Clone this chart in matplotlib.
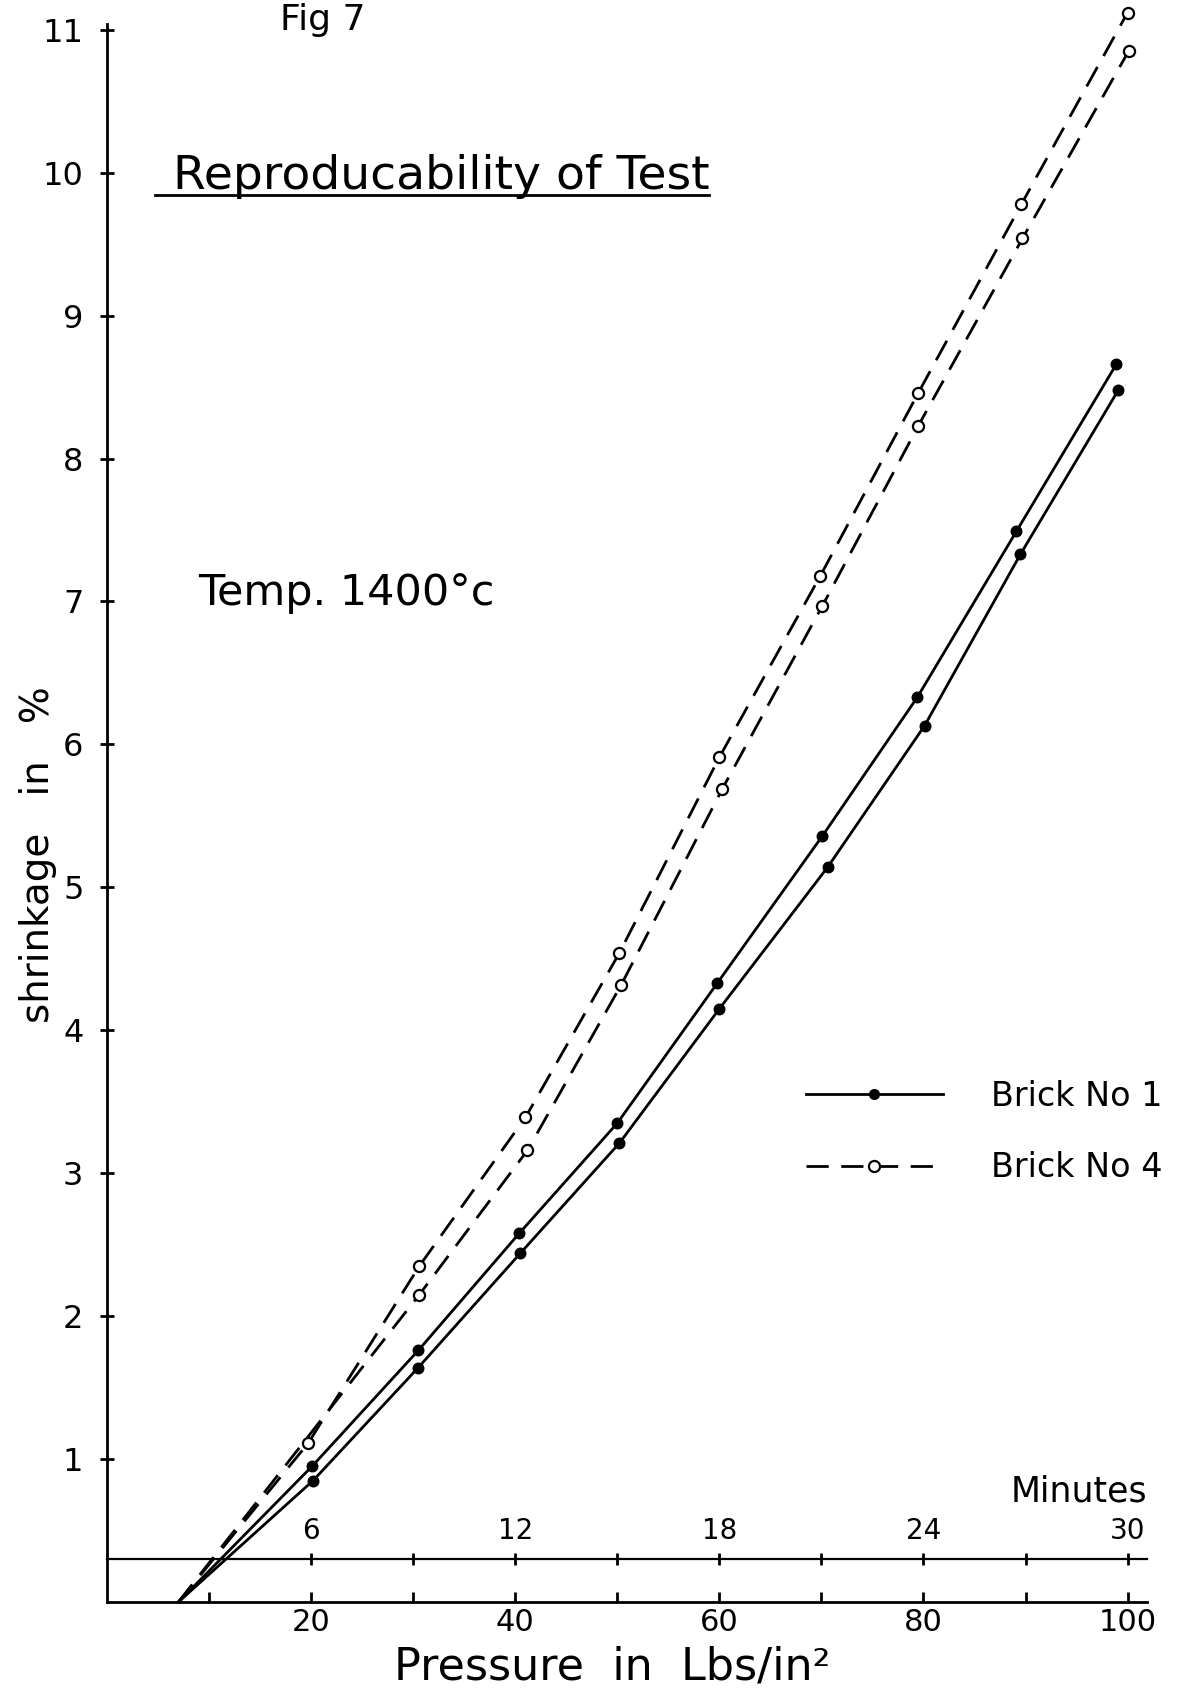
import numpy as np
import matplotlib.pyplot as plt
from matplotlib.lines import Line2D

# pressure (lbs/in^2) against shrinkage (%), two runs on each brick
brick1_a_p = [20.1, 30.5, 40.4, 50.0, 59.8, 70.1, 79.4, 89.1, 98.9]
brick1_a_s = [0.95, 1.76, 2.58, 3.35, 4.33, 5.36, 6.33, 7.49, 8.66]
brick1_b_p = [20.2, 30.5, 40.5, 50.2, 60.0, 70.6, 80.1, 89.5, 99.1]
brick1_b_s = [0.85, 1.64, 2.44, 3.21, 4.15, 5.14, 6.13, 7.33, 8.48]
brick4_a_p = [19.7, 30.6, 41.0, 50.2, 60.0, 69.9, 79.5, 89.6, 100.0]
brick4_a_s = [1.11, 2.35, 3.39, 4.54, 5.91, 7.18, 8.46, 9.78, 11.12]
brick4_b_p = [30.6, 41.2, 50.4, 60.3, 70.1, 79.5, 89.7, 100.1]
brick4_b_s = [2.15, 3.16, 4.32, 5.69, 6.97, 8.23, 9.54, 10.85]

# every curve runs back to this pressure at zero shrinkage
start_p = 7.0

pressure_ticks = [20, 40, 60, 80, 100]
minute_ticks = [6, 12, 18, 24, 30]
shrink_ticks = list(range(1, 12))
min_per_psi = 0.3      # load rises 1 lb/in^2 every 0.3 min
minutes_level = 0.3    # height of the time scale inside the plot

W, H = 1181, 1697
fig = plt.figure(figsize=(W / 100, H / 100), dpi=100)
ax = fig.add_axes([107 / W, 1 - 1602 / H, 1040 / W, 1578 / H])
ax.set_xlim(0, 101.9)
ax.set_ylim(0, 11.04)

DASH = (0, (8, 4.5))


def draw_run(p, s, filled):
    ls = "-" if filled else DASH
    ax.plot([start_p] + p, [0] + s, color="black", lw=2, linestyle=ls,
            clip_on=False, zorder=2)
    ax.plot(p, s, linestyle="none", marker="o",
            ms=7 if filled else 8,
            mfc="black" if filled else "white", mec="black", mew=1.6,
            clip_on=False, zorder=3)


draw_run(brick1_a_p, brick1_a_s, True)
draw_run(brick1_b_p, brick1_b_s, True)
draw_run(brick4_a_p, brick4_a_s, False)
draw_run(brick4_b_p, brick4_b_s, False)

for side in ["top", "right"]:
    ax.spines[side].set_visible(False)
for side in ["left", "bottom"]:
    ax.spines[side].set_linewidth(2)

ax.set_xticks(pressure_ticks)
ax.set_xticks(np.arange(10, 100, 20), minor=True)
ax.tick_params(axis="x", which="both", direction="in", length=7, width=2,
               labelsize=22, pad=4)
ax.set_yticks(shrink_ticks)
ax.tick_params(axis="y", direction="inout", length=10, width=2,
               labelsize=23, pad=12)

# time scale drawn across the plot just above the pressure axis
sec = ax.secondary_xaxis(minutes_level, transform=ax.transData,
                         functions=(lambda p: p * min_per_psi,
                                    lambda m: m / min_per_psi))
sec.set_alignment("top")
sec.set_xticks(minute_ticks)
sec.set_xticks(np.arange(9, 30, 6), minor=True)
sec.tick_params(which="both", direction="inout", length=9, width=2,
                labelsize=20, pad=6)
sec.spines["top"].set_linewidth(1.6)
sec.set_xlabel("Minutes", loc="right", fontsize=25, labelpad=11)

fig.text(280 / W, 1 - 30 / H, "Fig 7", fontsize=26, va="baseline")
fig.text(173 / W, 1 - 189 / H, "Reproducability of Test", fontsize=34,
         va="baseline")
fig.add_artist(Line2D([155 / W, 709 / W], [1 - 195 / H, 1 - 195 / H],
                      color="black", lw=2, transform=fig.transFigure))
fig.text(198 / W, 1 - 593 / H, "Temp. 1400°c", fontsize=31, va="center")

fig.text(38 / W, 1 - 855 / H, "shrinkage   in   %", fontsize=28,
         rotation=90, ha="center", va="center")
fig.text(612 / W, 1 - 1667 / H, "Pressure  in  Lbs/in²", fontsize=32,
         ha="center", va="center")

handles = [
    Line2D([], [], color="black", lw=2, marker="o", ms=7,
           mfc="black", mec="black"),
    Line2D([], [], color="black", lw=2, linestyle=DASH, marker="o", ms=8,
           mfc="white", mec="black", mew=1.6),
]
fig.legend(handles, ["Brick No 1", "Brick No 4"], loc="upper left",
           bbox_to_anchor=(806 / W, 1 - 1080 / H), frameon=False,
           fontsize=24, handlelength=4.1, handletextpad=1.45,
           labelspacing=1.15, borderpad=0, borderaxespad=0, numpoints=1)

fig.savefig("out.png", dpi=100)
